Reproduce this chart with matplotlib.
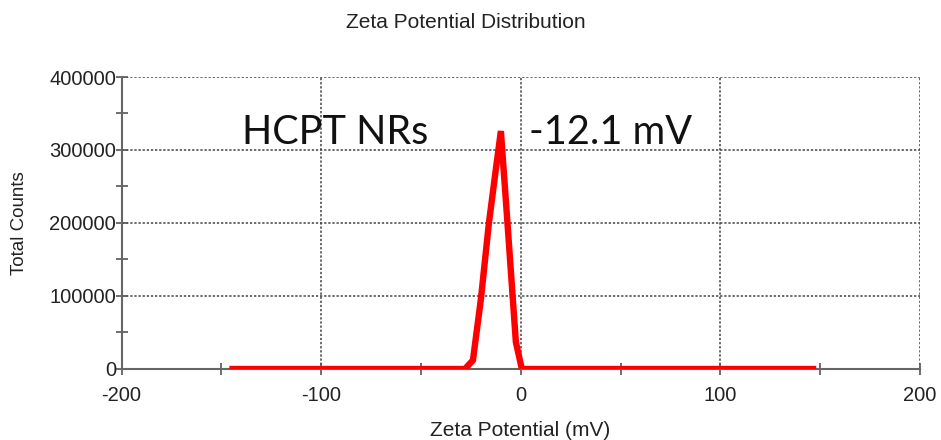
import matplotlib.pyplot as plt
from matplotlib.ticker import MultipleLocator

# zeta potential distribution (mV vs total counts)
zeta_mv = [-146, -28, -24, -20, -16, -12.5, -10, -6.7, -2.5, 0.5, 148]
counts = [0, 0, 12000, 96000, 200000, 274000, 326000, 200000, 37000, 0, 0]

x_ticks = [-200, -100, 0, 100, 200]
y_ticks = [0, 100000, 200000, 300000, 400000]

plt.rcParams['font.family'] = ['Liberation Sans', 'DejaVu Sans']
plt.rcParams['axes.unicode_minus'] = False

fig = plt.figure(figsize=(9.41, 4.40), dpi=100)
ax = fig.add_axes([0.1292, 0.1614, 0.8486, 0.6636])

ax.plot(zeta_mv, counts, color='#ff0000', lw=4.6, solid_joinstyle='miter',
        solid_capstyle='butt', zorder=3)

ax.set_xlim(-200, 200)
ax.set_ylim(0, 400000)
ax.set_xticks(x_ticks)
ax.set_yticks(y_ticks)
ax.xaxis.set_minor_locator(MultipleLocator(50))
ax.yaxis.set_minor_locator(MultipleLocator(50000))
ax.tick_params(which='both', direction='inout', color='#555555', labelsize=14.5,
               labelcolor='#222222', length=9, width=1.2)
ax.tick_params(axis='y', which='both', pad=-0.5)
ax.tick_params(axis='x', which='both', pad=8)

ax.grid(True, which='major', linestyle=(0, (1.5, 1.2)), color='#444444', lw=1.1)
for side in ['top', 'right']:
    ax.spines[side].set_visible(False)
for side in ['left', 'bottom']:
    ax.spines[side].set_color('#666666')
    ax.spines[side].set_linewidth(1.5)
ax.set_axisbelow(True)

fig.text(0.553, 1 - 430 / 440, 'Zeta Potential (mV)', ha='center', va='center',
         fontsize=15, color='#222222')
fig.text(0.021, 1 - 223 / 440, 'Total Counts', ha='center', va='center',
         rotation=90, fontsize=13.5, color='#222222')
fig.text(466 / 941, 1 - 22 / 440, 'Zeta Potential Distribution', ha='center',
         va='center', fontsize=15, color='#222222')

ax.text(-139.5, 308000, 'HCPT NRs', fontsize=28.5, family=['Lato', 'DejaVu Sans'],
        va='baseline', ha='left', color='#111111')
ax.text(4, 308000, '-12.1 mV', fontsize=28.5, family=['Lato', 'DejaVu Sans'],
        va='baseline', ha='left', color='#111111')

fig.savefig('out.png', dpi=100)
